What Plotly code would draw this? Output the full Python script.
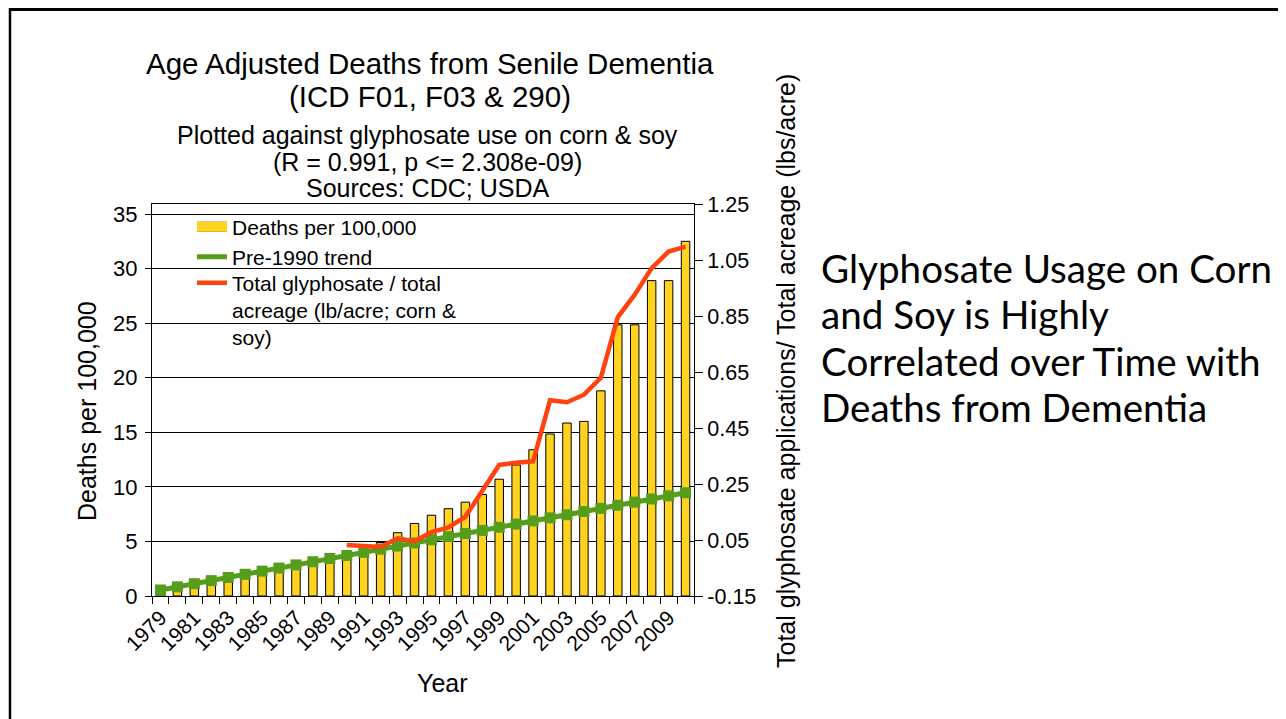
import plotly.graph_objects as go

years = list(range(1979, 2011))
deaths = [0.5, 0.9, 1.2, 1.5, 1.8, 2.2, 2.6, 2.9, 3.2, 3.5, 3.9, 4.1, 4.3, 4.9, 5.8, 6.65,
          7.4, 8.0, 8.6, 9.3, 10.7, 12.0, 13.4, 14.85, 15.85, 16.0, 18.8, 24.85, 24.85, 28.9, 28.9, 32.5]
trend = [0.55, 0.84, 1.13, 1.41, 1.70, 1.99, 2.28, 2.56, 2.85, 3.14, 3.43, 3.71, 4.00, 4.29, 4.58, 4.86,
         5.15, 5.44, 5.73, 6.01, 6.30, 6.59, 6.88, 7.16, 7.45, 7.74, 8.03, 8.31, 8.60, 8.89, 9.18, 9.46]
gly_years = list(range(1990, 2011))
glyphosate = [0.032, 0.030, 0.025, 0.056, 0.046, 0.078, 0.095, 0.133, 0.224, 0.318, 0.326, 0.331,
              0.549, 0.542, 0.569, 0.629, 0.846, 0.926, 1.021, 1.080, 1.098]
tick_years = years[::2]
left_ticks = [0, 5, 10, 15, 20, 25, 30, 35]
right_ticks = [-0.15, 0.05, 0.25, 0.45, 0.65, 0.85, 1.05, 1.25]
title_lines = ["Age Adjusted Deaths from Senile Dementia", "(ICD F01, F03 &amp; 290)"]
subtitle_lines = ["Plotted against glyphosate use on corn &amp; soy", "(R = 0.991, p &lt;= 2.308e-09)",
                  "Sources: CDC; USDA"]
side_lines = ["Glyphosate Usage on Corn", "and Soy is Highly", "Correlated over Time with",
              "Deaths from Dementia"]

# page is offset by the 8px default body margin
PAGE_W, PAGE_H, OFF = 1286, 719, 8
W, H = PAGE_W - OFF, PAGE_H - OFF
L, R, T, B = 152, 694, 204, 596          # plot area in page pixels
def px(x):
    return (x - L) / (R - L)
def py(y):
    return (B - y) / (B - T)

FONT = "Liberation Sans, Arial, sans-serif"
YELLOW = "#FFD320"
GREEN = "#579D1C"
ORANGE = "#FF420E"

fig = go.Figure()
fig.add_trace(go.Bar(x=years, y=deaths, width=0.5, name="Deaths per 100,000",
                     marker=dict(color=YELLOW, line=dict(color="black", width=1)),
                     showlegend=False))
# legend swatch for the bars: outlined yellow bar (outline + fill drawn as two legend lines)
fig.add_trace(go.Scatter(x=[None], y=[None], mode="lines", name="Deaths per 100,000",
                         line=dict(color="#3a3000", width=13), legend="legend"))
fig.add_trace(go.Scatter(x=[None], y=[None], mode="lines", name=" ",
                         line=dict(color=YELLOW, width=10.5), legend="legend4"))
fig.add_trace(go.Scatter(x=years, y=trend, mode="lines+markers", name="Pre-1990 trend",
                         line=dict(color=GREEN, width=5),
                         marker=dict(symbol="square", size=11, color=GREEN),
                         showlegend=False))
fig.add_trace(go.Scatter(x=[None], y=[None], mode="lines", name="Pre-1990 trend",
                         line=dict(color=GREEN, width=5), legend="legend2"))
fig.add_trace(go.Scatter(x=gly_years, y=glyphosate, mode="lines", yaxis="y2",
                         name="Total glyphosate / total<br>acreage (lb/acre; corn &amp;<br>soy)",
                         line=dict(color=ORANGE, width=4.5), legend="legend3"))

leg_common = dict(xanchor="left", yanchor="middle", bgcolor="rgba(0,0,0,0)",
                  font=dict(size=21, family=FONT), valign="top")
fig.update_layout(
    width=W, height=H,
    margin=dict(l=L - OFF, r=PAGE_W - R, t=T - OFF, b=PAGE_H - B),
    paper_bgcolor="white", plot_bgcolor="white",
    font=dict(family=FONT, color="black", size=21),
    showlegend=True,
    legend=dict(x=px(192), y=py(227), **leg_common),
    legend4=dict(x=px(192), y=py(227), **leg_common),
    legend2=dict(x=px(192), y=py(257), **leg_common),
    legend3=dict(x=px(192), y=py(310), **leg_common),
    xaxis=dict(range=[1978.5, 2010.5], tickvals=tick_years, ticktext=[str(y) for y in tick_years],
               tickangle=-45, ticks="", showgrid=False, zeroline=False,
               showline=True, linecolor="black", linewidth=1, mirror=True,
               tickfont=dict(size=21),
               minor=dict(tick0=1978.5, dtick=1, ticks="outside", ticklen=7,
                          tickcolor="black", tickwidth=1, showgrid=False)),
    yaxis=dict(range=[0, 35.92], tickvals=left_ticks, ticks="outside", ticklen=6,
               tickcolor="black", showgrid=True, gridcolor="black", gridwidth=1,
               zeroline=False, showline=True, linecolor="black", linewidth=1,
               tickfont=dict(size=22), ticklabelstandoff=3),
    yaxis2=dict(range=[-0.15, 1.25], tickvals=right_ticks, ticktext=["%.2f" % v for v in right_ticks],
                overlaying="y", side="right", ticks="outside", ticklen=8, tickcolor="black",
                showgrid=False, zeroline=False, showline=True, linecolor="black", linewidth=1,
                tickfont=dict(size=21.5)),
)

def text(t, x, y, size, anchor="center", angle=0, family=FONT):
    fig.add_annotation(text=t, x=px(x), y=py(y), xref="paper", yref="paper",
                       xanchor=anchor, yanchor="middle", showarrow=False, textangle=angle,
                       font=dict(size=size, family=family, color="black"))

for t, y in zip(title_lines, [64, 97]):
    text(t, 430, y, 29.5)
for t, y in zip(subtitle_lines, [135, 162, 188]):
    text(t, 427, y, 25)

text("Year", 442, 683, 25)
text("Deaths per 100,000", 87, 411, 25, angle=-90)
text("Total glyphosate applications/ Total acreage (lbs/acre)", 786, 371, 25, angle=-90)

for t, y in zip(side_lines, [268, 314, 361, 407]):
    text(t, 819, y, 38.6, anchor="left", family="Lato, Carlito, sans-serif")

# slide border
fig.add_shape(type="line", xref="paper", yref="paper", x0=px(9), x1=px(1300), y0=py(9.5), y1=py(9.5),
              line=dict(color="black", width=3))
fig.add_shape(type="line", xref="paper", yref="paper", x0=px(10), x1=px(10), y0=py(8), y1=py(730),
              line=dict(color="black", width=2.5))

fig.write_html("out.html")
